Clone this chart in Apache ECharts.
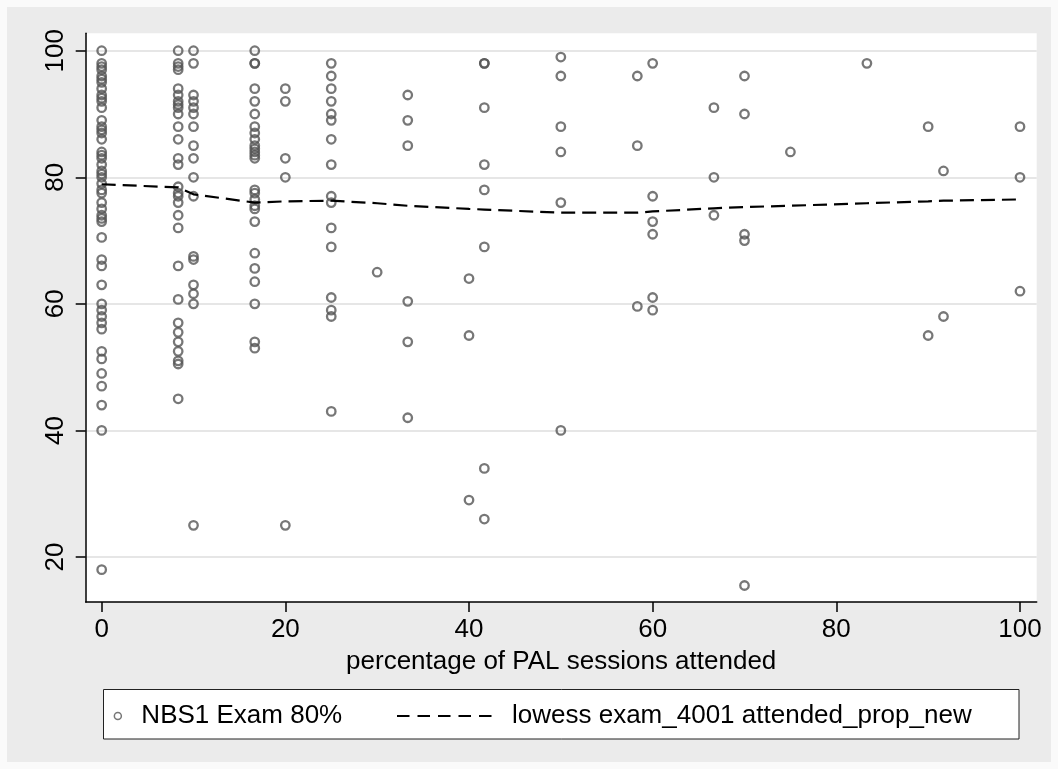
<!DOCTYPE html>
<html>
<head>
<meta charset="utf-8">
<script src="https://cdn.jsdelivr.net/npm/echarts@6/dist/echarts.min.js"></script>
<style>
  html, body { margin: 0; padding: 0; background: #FAFAFA; }
  #chart { width: 1058px; height: 769px; }
</style>
</head>
<body>
<div id="chart"></div>
<script>
// ---- data ----
const attendedLevels = [0, 8.33, 10, 16.67, 20, 25, 30, 33.33, 40, 41.67, 50, 58.33, 60, 66.67, 70, 75, 83.33, 90, 91.67, 100];

const examAt0 = [100, 98, 97.5, 97, 96, 95.5, 95, 94, 93, 92.5, 92, 91,
  89, 88, 87.5, 87, 86, 84, 83.5, 83, 82, 81, 80.5, 80, 79, 78, 77.5,
  76, 75, 74, 73.5, 73, 70.5, 67, 66, 63, 60, 59, 58, 57, 56, 52.5, 51.3, 49, 47, 44, 40, 18];
const examAt8 = [100, 98, 97.5, 97, 94, 93, 92, 91.5, 91, 90, 88, 86, 83, 82,
  78.5, 77.5, 77, 76, 74, 72, 66, 60.7, 57, 55.5, 54, 52.5, 51, 50.5, 45];
const examAt10 = [100, 98, 93, 92, 91, 90, 88, 85, 83, 80, 77, 67.5, 67, 63, 61.6, 60, 25];
const examAt17 = [100, 98, 98, 94, 92, 90, 88, 87, 86, 85, 84.5, 84, 83.5, 83,
  78, 77.5, 76.5, 75.5, 75, 73, 68, 65.6, 63.5, 60, 54, 53];
const examAt20 = [94, 92, 83, 80, 25];
const examAt25 = [98, 96, 94, 92, 90, 89, 86, 82, 77, 76, 72, 69, 61, 59, 58, 43];
const examAt30 = [65];
const examAt33 = [93, 89, 85, 60.4, 54, 42];
const examAt40 = [64, 55, 29];
const examAt42 = [98, 98, 91, 82, 78, 69, 34, 26];
const examAt50 = [99, 96, 88, 84, 76, 40];
const examAt58 = [96, 85, 59.6];
const examAt60 = [98, 77, 73, 71, 61, 59];
const examAt67 = [91, 80, 74];
const examAt70 = [96, 90, 71, 70, 15.5];
const examAt75 = [84];
const examAt83 = [98];
const examAt90 = [88, 55];
const examAt92 = [81, 58];
const examAt100 = [88, 80, 62];

const examByLevel = [examAt0, examAt8, examAt10, examAt17, examAt20, examAt25, examAt30,
  examAt33, examAt40, examAt42, examAt50, examAt58, examAt60, examAt67, examAt70,
  examAt75, examAt83, examAt90, examAt92, examAt100];

const lowessX = [0, 8.33, 10, 16.67, 20, 25, 30, 33.33, 40, 41.67, 50, 58.33, 60, 66.67, 70, 75, 83.33, 90, 91.67, 100];
const lowessY = [78.9, 78.4, 77.3, 76.0, 76.2, 76.3, 75.9, 75.5, 75.0, 74.9, 74.4, 74.4, 74.6, 75.1, 75.3, 75.5, 75.9, 76.2, 76.3, 76.5];

const xTicks = [0, 20, 40, 60, 80, 100];
const yTicks = [20, 40, 60, 80, 100];

const scatterName = 'NBS1 Exam 80%';
const lowessName = 'lowess exam_4001 attended_prop_new';
const xTitle = 'percentage of PAL sessions attended';

// ---- build ----
const scatterData = [];
attendedLevels.forEach((lv, i) => {
  examByLevel[i].forEach(v => scatterData.push([lv, v]));
});
const lowessData = lowessX.map((x, i) => [x, lowessY[i]]);

const FONT = '"Liberation Sans", Arial, Helvetica, sans-serif';
const chart = echarts.init(document.getElementById('chart'), null, { renderer: 'canvas' });

chart.setOption({
  animation: false,
  backgroundColor: '#EBEBEB',
  textStyle: { fontFamily: FONT },
  graphic: [
    { type: 'rect', z: 0, silent: true, shape: { x: 0, y: 0, width: 1058, height: 769 },
      style: { fill: null, stroke: '#FAFAFA', lineWidth: 14 } },
    { type: 'rect', z: 1, silent: true, shape: { x: 103.5, y: 689.5, width: 915.5, height: 49.5 },
      style: { fill: '#FFFFFF', stroke: '#222', lineWidth: 1 } }
  ],
  grid: {
    left: 85.7, right: 21.3, top: 33.3, bottom: 167,
    show: true, backgroundColor: '#FFFFFF', borderWidth: 0,
    containLabel: false, outerBoundsMode: 'none'
  },
  xAxis: {
    type: 'value', min: -1.74, max: 101.82,
    name: xTitle, nameLocation: 'middle', nameGap: 47,
    nameTextStyle: { fontSize: 26, color: '#000', fontFamily: FONT },
    axisLine: { show: true, onZero: false, lineStyle: { color: '#000', width: 1.5 } },
    axisTick: { show: true, length: 10, lineStyle: { color: '#000', width: 1.5 }, customValues: xTicks },
    axisLabel: { fontSize: 26, color: '#000', margin: 15, customValues: xTicks, fontFamily: FONT },
    splitLine: { show: false }
  },
  yAxis: {
    type: 'value', min: 12.89, max: 102.75,
    axisLine: { show: true, onZero: false, lineStyle: { color: '#000', width: 1.5 } },
    axisTick: { show: true, length: 10, lineStyle: { color: '#000', width: 1.5 }, customValues: yTicks },
    axisLabel: { fontSize: 26, color: '#000', margin: 17, rotate: 90, customValues: yTicks, fontFamily: FONT },
    splitLine: { show: true, lineStyle: { color: '#E6E6E6', width: 2 } }
  },
  legend: [
    {
      z: 5, left: 113.6, top: 703, padding: 0, itemWidth: 7, itemHeight: 7,
      selectedMode: false,
      textStyle: { fontSize: 26, color: '#000', padding: [0, 0, 0, 15], fontFamily: FONT },
      data: [{ name: scatterName, icon: 'circle',
        itemStyle: { color: 'rgba(0,0,0,0)', borderColor: '#555', borderWidth: 1.5 } }]
    },
    {
      z: 5, left: 396, top: 703, padding: 0, itemWidth: 95, itemHeight: 8,
      selectedMode: false,
      textStyle: { fontSize: 26, color: '#000', padding: [0, 0, 0, 15], fontFamily: FONT },
      data: [{ name: lowessName,
        itemStyle: { color: 'rgba(0,0,0,0)', borderWidth: 0, opacity: 0 },
        lineStyle: { color: '#000', width: 2, type: [12.5, 8] } }]
    }
  ],
  series: [
    {
      name: scatterName, type: 'scatter', data: scatterData,
      symbol: 'circle', symbolSize: 8.5, silent: true,
      itemStyle: { color: 'rgba(0,0,0,0)', borderColor: '#555', borderWidth: 2.3 },
      emphasis: { disabled: true }, z: 3
    },
    {
      name: lowessName, type: 'line', data: lowessData,
      symbol: 'none', showSymbol: false, silent: true, smooth: false,
      color: '#000',
      lineStyle: { color: '#000', width: 2.2, type: [14, 7] },
      emphasis: { disabled: true }, z: 4
    }
  ]
});
</script>
</body>
</html>
